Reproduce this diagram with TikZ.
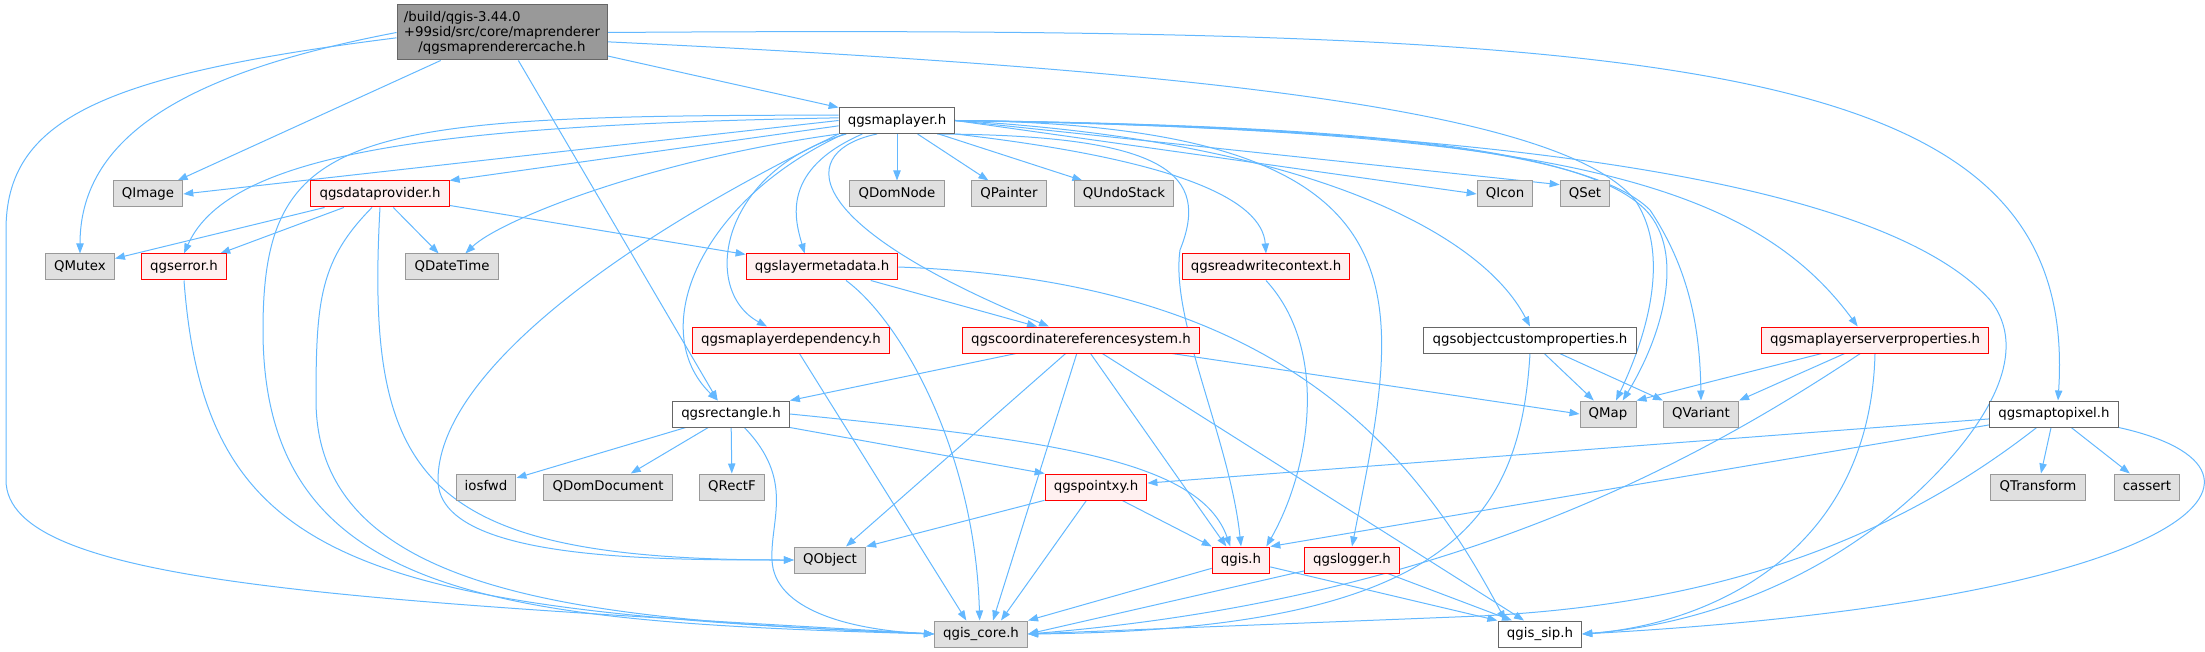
\documentclass[tikz,border=0pt]{standalone}
\usepackage{fontspec}
\setmainfont{DejaVu Sans}
\usetikzlibrary{arrows.meta,backgrounds}
\definecolor{linkblue}{HTML}{63B8FF}
\definecolor{extfill}{HTML}{E0E0E0}
\definecolor{extdraw}{HTML}{999999}
\definecolor{docdraw}{HTML}{666666}
\definecolor{cutfill}{HTML}{FFF0F0}
\definecolor{cutdraw}{HTML}{FF0000}
\definecolor{rootfill}{HTML}{999999}
\begin{document}
\begin{tikzpicture}[x=0.75pt, y=-0.75pt,
	filebox/.style={rectangle, line width=0.75pt, inner xsep=6.5pt, inner ysep=0pt, minimum height=19.5pt, text height=7.6pt, text depth=2.3pt, font=\fontsize{10}{12}\selectfont},
	ext/.style={filebox, draw=extdraw, fill=extfill},
	doc/.style={filebox, draw=docdraw, fill=white},
	cut/.style={filebox, draw=cutdraw, fill=cutfill},
	rootbox/.style={rectangle, line width=0.75pt, draw=docdraw, fill=rootfill, align=center, inner sep=0pt, minimum width=157.5pt, minimum height=41.25pt, font=\fontsize{10}{11.25}\selectfont},
	incl/.style={draw=linkblue, line width=0.75pt, -{Triangle[length=7.5pt, width=5.5pt]}}]
	\useasboundingbox (0,0) rectangle (2205,652);
	\node[rootbox] (root) at (502,32.5) {\rlap{/build/qgis-3.44.0}\phantom{+99sid/src/core/maprenderer}\\+99sid/src/core/maprenderer\\/qgsmaprenderercache.h};
	\foreach \fname/\fx/\fy/\ftext in {maplayer/897/120.5/qgsmaplayer.h, objprops/1530/340/qgsobjectcustomproperties.h, rectangle/731/414/qgsrectangle.h, maptopixel/2054/414/qgsmaptopixel.h, qgissip/1540/634/qgis\_sip.h}
		\node[doc] (\fname) at (\fx,\fy) {\ftext};
	\foreach \fname/\fx/\fy/\ftext in {dataprov/380/194/qgsdataprovider.h, qgserror/184/267/qgserror.h, layermeta/822/267/qgslayermetadata.h, rwcontext/1266/267/qgsreadwritecontext.h, layerdep/791/340/qgsmaplayerdependency.h, crs/1081/340/qgscoordinatereferencesystem.h, serverprops/1875/340/qgsmaplayerserverproperties.h, pointxy/1096/487/qgspointxy.h, qgis/1241/560/qgis.h, qgslogger/1352/560/qgslogger.h}
		\node[cut] (\fname) at (\fx,\fy) {\ftext};
	\foreach \fname/\fx/\fy/\ftext in {qimage/148/194/QImage, qdomnode/897/194/QDomNode, qpainter/1009/194/QPainter, qundostack/1124/194/QUndoStack, qicon/1505/194/QIcon, qset/1585/194/QSet, qmutex/80/267/QMutex, qdatetime/452/267/QDateTime, qmap/1608/414/QMap, qvariant/1701/414/QVariant, iosfwd/486/487/iosfwd, qdomdoc/608/487/QDomDocument, qrectf/732/487/QRectF, qtransform/2038/487/QTransform, cassert/2147/487/cassert, qobject/830/560/QObject, qgiscore/981/634/qgis\_core.h}
		\node[ext] (\fname) at (\fx,\fy) {\ftext};

	\begin{scope}[on background layer]
	\draw[incl] (root) -- (maplayer);
	\draw[incl] (root) -- (qimage);
	\draw[incl] (root.west) .. controls (200,70) and (80,130) .. (qmutex.north);
	\draw[incl] ([yshift=-4pt]root.west) .. controls (100,75) and (6,120) .. (6,230) -- (6,480) .. controls (6,585) and (350,600) .. (qgiscore.west);
	\draw[incl] (root) -- ([xshift=-10pt]rectangle.north);
	\draw[incl] ([yshift=-7pt]root.east) .. controls (1200,70) and (1560,110) .. (1635,200) .. controls (1675,260) and (1640,350) .. ([xshift=6pt]qmap.north);
	\draw[incl] (root.east) .. controls (1700,25) and (2080,60) .. ([xshift=3pt]maptopixel.north);

	\draw[incl] (maplayer.west) -- (qimage.east);
	\draw[incl] ([yshift=-4pt]maplayer.west) -- (dataprov.north east);
	\draw[incl] ([yshift=2pt]maplayer.west) .. controls (450,125) and (230,150) .. (qgserror.north);
	\draw[incl] (maplayer.south west) .. controls (650,160) and (500,220) .. ([xshift=10pt]qdatetime.north);
	\draw[incl] ([yshift=4pt]maplayer.west) .. controls (350,115) and (263,130) .. (263,330) .. controls (263,600) and (500,622) .. (qgiscore.west);
	\draw[incl] (maplayer.south west) .. controls (600,250) and (438,380) .. (438,480) .. controls (438,560) and (650,560) .. (qobject.west);
	\draw[incl] ([xshift=-40pt]maplayer.south) .. controls (700,200) and (645,330) .. ([xshift=-10pt]rectangle.north);
	\draw[incl] ([xshift=-26pt]maplayer.south) .. controls (780,170) and (795,220) .. ([xshift=-13pt]layermeta.north);
	\draw[incl] ([xshift=-38pt]maplayer.south) .. controls (720,170) and (700,290) .. ([xshift=-18pt]layerdep.north);
	\draw[incl] ([xshift=-15pt]maplayer.south) .. controls (800,150) and (790,220) .. ([xshift=-24pt]crs.north);
	\draw[incl] (maplayer) -- (qdomnode);
	\draw[incl] (maplayer) -- (qpainter);
	\draw[incl] (maplayer) -- (qundostack);
	\draw[incl] ([xshift=30pt]maplayer.south) .. controls (1170,135) and (1210,175) .. (1180,250) .. controls (1170,320) and (1230,440) .. (qgis.north);
	\draw[incl] (maplayer.south east) .. controls (1180,160) and (1262,200) .. (rwcontext.north);
	\draw[incl] (maplayer.east) .. controls (1450,125) and (1400,300) .. (qgslogger.north);
	\draw[incl] (maplayer.east) .. controls (1300,140) and (1480,230) .. (objprops.north);
	\draw[incl] (maplayer.east) -- (qicon.west);
	\draw[incl] (maplayer.east) -- ([yshift=7pt]qset.west);
	\draw[incl] (maplayer.east) .. controls (1300,125) and (1590,140) .. (1650,215) .. controls (1685,260) and (1660,340) .. ([xshift=11pt]qmap.north);
	\draw[incl] (maplayer.east) .. controls (1350,125) and (1590,150) .. (1650,210) .. controls (1690,270) and (1700,330) .. (qvariant.north);
	\draw[incl] (maplayer.east) .. controls (1550,130) and (1750,180) .. ([xshift=-13pt]serverprops.north);
	\draw[incl] (maplayer.east) .. controls (1600,130) and (1900,200) .. (1990,300) .. controls (2030,350) and (1990,420) .. (1930,480) .. controls (1830,580) and (1700,625) .. (qgissip.east);

	\draw[incl] (dataprov) -- (qmutex);
	\draw[incl] (dataprov) -- (qgserror);
	\draw[incl] (dataprov) -- (qdatetime);
	\draw[incl] (dataprov) -- (layermeta);
	\draw[incl] (dataprov.south) .. controls (365,480) and (420,560) .. (qobject.west);
	\draw[incl] ([xshift=-6pt]dataprov.south) .. controls (320,260) and (316,300) .. (316,400) .. controls (316,600) and (600,620) .. (qgiscore.west);
	\draw[incl] (qgserror.south) .. controls (205,560) and (350,610) .. (qgiscore.west);

	\draw[incl] (layermeta) -- ([xshift=-33pt]crs.north);
	\draw[incl] ([xshift=18pt]layermeta.south) .. controls (900,320) and (975,450) .. ([xshift=-1pt]qgiscore.north);
	\draw[incl] (layermeta.east) .. controls (1250,280) and (1400,420) .. ([xshift=-26pt]qgissip.north);
	\draw[incl] (layerdep) -- ([xshift=-11pt]qgiscore.north);

	\draw[incl] (crs) -- (rectangle.north east);
	\draw[incl] (crs) -- ([xshift=12pt]qobject.north);
	\draw[incl] (crs) -- ([xshift=9pt]qgiscore.north);
	\draw[incl] (crs) -- ([xshift=-11pt]qgis.north);
	\draw[incl] (crs) -- ([xshift=-12pt]qgissip.north);
	\draw[incl] (crs) -- (qmap.west);
	\draw[incl] (rwcontext.south) .. controls (1330,350) and (1310,470) .. ([xshift=19pt]qgis.north);

	\draw[incl] (objprops) -- (qmap);
	\draw[incl] (objprops) -- (qvariant.north west);
	\draw[incl] (objprops.south) .. controls (1520,520) and (1450,630) .. (qgiscore.east);
	\draw[incl] (serverprops) -- (qmap.north east);
	\draw[incl] (serverprops) -- (qvariant.north east);
	\draw[incl] ([xshift=-11pt]serverprops.south) .. controls (1700,460) and (1450,600) .. (qgiscore.east);
	\draw[incl] (serverprops.south) .. controls (1870,560) and (1700,625) .. (qgissip.east);

	\draw[incl] (rectangle) -- (iosfwd);
	\draw[incl] (rectangle) -- (qdomdoc);
	\draw[incl] (rectangle) -- (qrectf);
	\draw[incl] ([xshift=10pt]rectangle.south) .. controls (795,480) and (770,520) .. (772,560) .. controls (774,610) and (850,630) .. (qgiscore.west);
	\draw[incl] (rectangle.south east) -- (pointxy.north west);
	\draw[incl] (rectangle.east) .. controls (1050,440) and (1200,460) .. ([xshift=-8pt]qgis.north);

	\draw[incl] (maptopixel) -- (pointxy);
	\draw[incl] (maptopixel) -- (qgis.north east);
	\draw[incl] (maptopixel) -- (qtransform);
	\draw[incl] (maptopixel) -- (cassert);
	\draw[incl] ([xshift=-13pt]maptopixel.south) .. controls (1880,550) and (1700,605) .. (1480,616) -- (qgiscore.east);
	\draw[incl] (maptopixel.south east) .. controls (2310,470) and (2200,600) .. (qgissip.east);

	\draw[incl] (pointxy) -- (qobject.north east);
	\draw[incl] (pointxy) -- ([xshift=15pt]qgiscore.north);
	\draw[incl] (pointxy) -- (qgis.north west);
	\draw[incl] (qgis) -- (qgiscore.north east);
	\draw[incl] (qgis) -- ([xshift=-32pt]qgissip.north);
	\draw[incl] (qgslogger) -- (qgiscore.east);
	\draw[incl] (qgslogger) -- ([xshift=-21pt]qgissip.north);
	\end{scope}
\end{tikzpicture}
\end{document}
